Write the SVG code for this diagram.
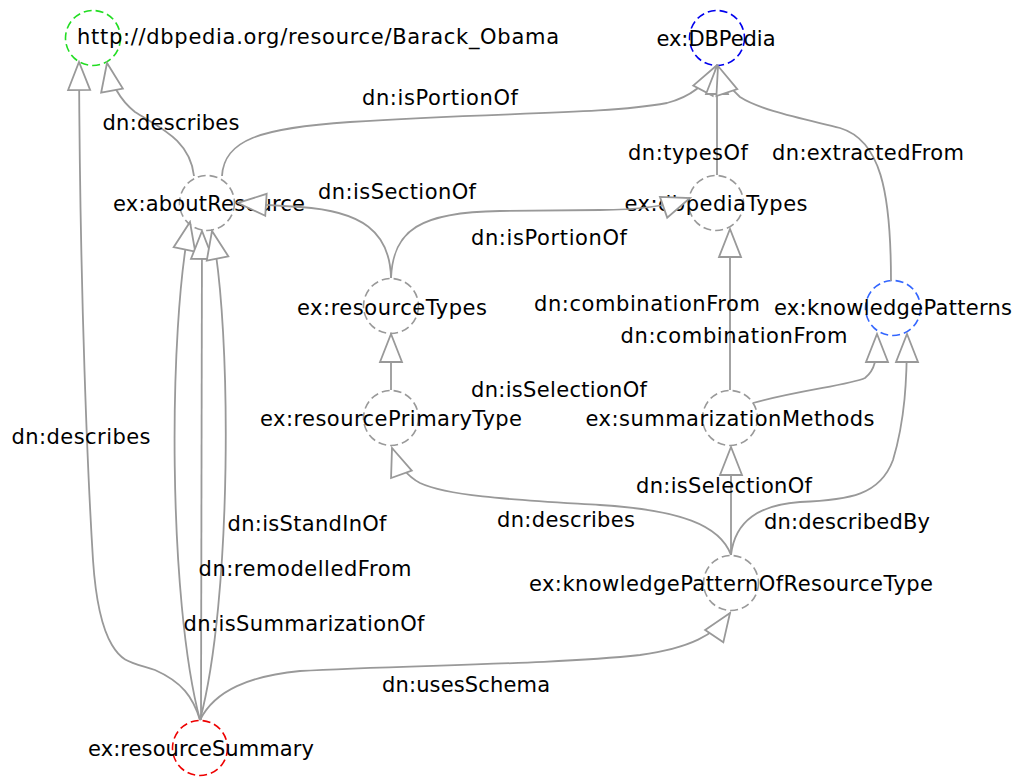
<svg xmlns="http://www.w3.org/2000/svg" width="1018" height="778" viewBox="0 0 1018 778">
<style>
.bg{fill:#fff}
.node{fill:none;stroke:#999;stroke-width:1.6;stroke-dasharray:8,4}
.lbl{font-family:"DejaVu Sans","Liberation Sans",sans-serif;font-size:21px;fill:#000;text-anchor:middle}
.edge{fill:none;stroke:#999;stroke-width:1.8;marker-end:url(#tri)}
</style>
<defs>
<marker id="tri" markerUnits="userSpaceOnUse" markerWidth="32" markerHeight="26" viewBox="-2 -13 32 26" refX="28" refY="0" orient="auto">
<path d="M0,-11 L28,0 L0,11 Z" fill="#fff" stroke="#999" stroke-width="1.8"/>
</marker>
</defs>
<rect class="bg" x="0" y="0" width="1018" height="778"/>
<g id="n-obama"><circle class="node" cx="93" cy="38" r="27.5" style="stroke:#22dd22"/><text class="lbl" x="318" y="44" textLength="482" lengthAdjust="spacing">http://dbpedia.org/resource/Barack_Obama</text></g>
<g id="n-dbpedia"><circle class="node" cx="717" cy="38" r="27.5" style="stroke:#0000ee"/><text class="lbl" x="716" y="46" textLength="119" lengthAdjust="spacing">ex:DBPedia</text></g>
<g id="n-aboutResource"><circle class="node" cx="207" cy="203" r="27.5"/><text class="lbl" x="209" y="211" textLength="192" lengthAdjust="spacing">ex:aboutResource</text></g>
<g id="n-dbpediaTypes"><circle class="node" cx="716" cy="203" r="27.5"/><text class="lbl" x="716" y="211" textLength="183" lengthAdjust="spacing">ex:dbpediaTypes</text></g>
<g id="n-resourceTypes"><circle class="node" cx="391" cy="306" r="27.5"/><text class="lbl" x="392" y="315" textLength="190" lengthAdjust="spacing">ex:resourceTypes</text></g>
<g id="n-knowledgePatterns"><circle class="node" cx="893" cy="308" r="27.5" style="stroke:#3366ff"/><text class="lbl" x="893" y="315" textLength="238" lengthAdjust="spacing">ex:knowledgePatterns</text></g>
<g id="n-resourcePrimaryType"><circle class="node" cx="391" cy="418" r="27.5"/><text class="lbl" x="391" y="426" textLength="262" lengthAdjust="spacing">ex:resourcePrimaryType</text></g>
<g id="n-summarizationMethods"><circle class="node" cx="730" cy="418" r="27.5"/><text class="lbl" x="730" y="426" textLength="289" lengthAdjust="spacing">ex:summarizationMethods</text></g>
<g id="n-kport"><circle class="node" cx="731" cy="583" r="27.5"/><text class="lbl" x="731" y="591" textLength="404" lengthAdjust="spacing">ex:knowledgePatternOfResourceType</text></g>
<g id="n-resourceSummary"><circle class="node" cx="200" cy="748" r="27.5" style="stroke:#ee0000"/><text class="lbl" x="201" y="756" textLength="226" lengthAdjust="spacing">ex:resourceSummary</text></g>
<g id="connectors">
<path class="edge" d="M200,720 C193,697 182,682 155,670 C130,662 122,662 112,645 C100,625 95,590 93,560 C88,480 80,300 79,62"/>
<path class="edge" d="M200,720 C168,600 168,330 190,222"/>
<path class="edge" d="M201,720 L202,231"/>
<path class="edge" d="M200,720 C232,600 232,330 212,231"/>
<path class="edge" d="M194,176 C190,140 160,128 135,112 C120,100 111,85 107,63"/>
<path class="edge" d="M222,176 C224,140 260,128 350,122 C500,112 600,115 667,103 C690,97 706,85 716,66"/>
<path class="edge" d="M391,278 C390,232 362,211 300,207 L238,203"/>
<path class="edge" d="M391,278 C393,230 420,212 500,211 L600,210 C640,210 670,205 690,198"/>
<path class="edge" d="M717,175 L717,66"/>
<path class="edge" d="M891,281 C891,190 880,140 840,128 C800,118 760,110 740,97 C730,88 722,78 718,66"/>
<path class="edge" d="M730,390 L730,229"/>
<path class="edge" d="M753,403 C800,390 850,385 865,378 C875,370 877,360 877,334"/>
<path class="edge" d="M391,390 L391,334"/>
<path class="edge" d="M731,555 L731,447"/>
<path class="edge" d="M731,555 C735,520 760,505 800,502 C850,500 880,495 893,460 C905,420 907,380 907,334"/>
<path class="edge" d="M731,555 C720,525 680,510 600,505 C520,500 450,497 420,483 C405,475 397,462 392,448"/>
<path class="edge" d="M200,720 C215,690 250,676 300,671 C400,665 550,665 640,655 C690,648 715,635 730,613"/>
<text class="lbl" x="440" y="105" textLength="156" lengthAdjust="spacing">dn:isPortionOf</text>
<text class="lbl" x="171" y="130" textLength="137" lengthAdjust="spacing">dn:describes</text>
<text class="lbl" x="688" y="160" textLength="120" lengthAdjust="spacing">dn:typesOf</text>
<text class="lbl" x="868" y="160" textLength="192" lengthAdjust="spacing">dn:extractedFrom</text>
<text class="lbl" x="397" y="199" textLength="158" lengthAdjust="spacing">dn:isSectionOf</text>
<text class="lbl" x="549" y="245" textLength="156" lengthAdjust="spacing">dn:isPortionOf</text>
<text class="lbl" x="647" y="311" textLength="226" lengthAdjust="spacing">dn:combinationFrom</text>
<text class="lbl" x="734" y="343" textLength="227" lengthAdjust="spacing">dn:combinationFrom</text>
<text class="lbl" x="559" y="397" textLength="176" lengthAdjust="spacing">dn:isSelectionOf</text>
<text class="lbl" x="81" y="444" textLength="139" lengthAdjust="spacing">dn:describes</text>
<text class="lbl" x="724" y="493" textLength="176" lengthAdjust="spacing">dn:isSelectionOf</text>
<text class="lbl" x="566" y="527" textLength="138" lengthAdjust="spacing">dn:describes</text>
<text class="lbl" x="847" y="529" textLength="166" lengthAdjust="spacing">dn:describedBy</text>
<text class="lbl" x="307" y="531" textLength="159" lengthAdjust="spacing">dn:isStandInOf</text>
<text class="lbl" x="305" y="576" textLength="213" lengthAdjust="spacing">dn:remodelledFrom</text>
<text class="lbl" x="304" y="631" textLength="241" lengthAdjust="spacing">dn:isSummarizationOf</text>
<text class="lbl" x="466" y="692" textLength="168" lengthAdjust="spacing">dn:usesSchema</text>
</g>
</svg>
